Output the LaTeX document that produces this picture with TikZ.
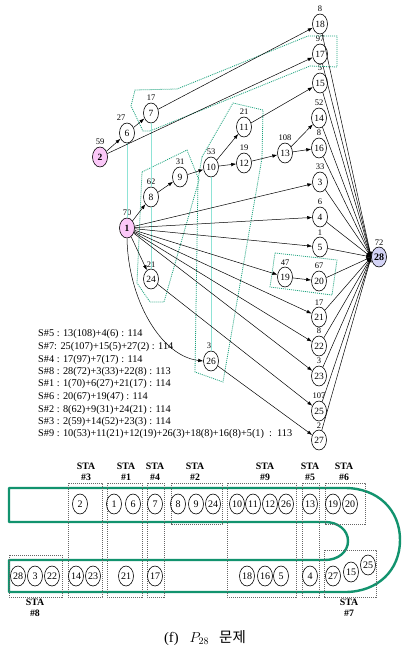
\documentclass[tikz,border=0pt]{standalone}
\usepackage{fontspec}
\setmainfont{Liberation Serif}
\newfontfamily\krfont{Noto Sans CJK KR}
\usetikzlibrary{arrows.meta,shapes.geometric}
\definecolor{grpline}{HTML}{1FA37F}
\definecolor{tieline}{HTML}{8FE3D6}
\definecolor{srcfill}{HTML}{FBC8F8}
\definecolor{sinkfill}{HTML}{D4D4F6}
\definecolor{loopgreen}{HTML}{12936E}
\begin{document}
\begin{tikzpicture}[x=1pt,y=-1pt,
  tn/.style={ellipse,draw,line width=0.6pt,minimum width=15pt,minimum height=20pt,inner sep=0pt,font=\fontsize{9.5}{10}\selectfont},
  src/.style={tn,fill=srcfill,font=\fontsize{9.5}{10}\selectfont\bfseries},
  sink/.style={tn,fill=sinkfill,font=\fontsize{10}{10}\selectfont\bfseries},
  every label/.style={font=\fontsize{8.5}{9}\selectfont,inner sep=0.5pt},
  label distance=1pt,
  prec/.style={line width=0.5pt,-{Latex[length=5pt,width=3.6pt]}},
  grp/.style={grpline,line width=0.8pt,dash pattern=on 1pt off 1pt},
  tie/.style={tieline,line width=0.6pt},
  stxt/.style={anchor=west,inner sep=0pt,font=\fontsize{10.3}{11}\selectfont},
  bn/.style={ellipse,draw,line width=0.6pt,minimum width=15pt,minimum height=20pt,inner sep=0pt,font=\fontsize{10}{10}\selectfont},
  stabox/.style={draw=black!60,line width=0.5pt,dash pattern=on 1.2pt off 0.8pt},
  stalbl/.style={align=center,inner sep=0pt,font=\fontsize{9.8}{11}\selectfont\bfseries},
  loop/.style={loopgreen,line width=2.4pt,line join=round}]
\useasboundingbox (0,0) rectangle (403,655);

% ---------- precedence graph: nodes ----------
\node[src,label={above:59}] (n2) at (100,157) {2};
\node[tn,label={[xshift=-6pt]above:27}] (n6) at (127,133) {6};
\node[tn,label={above:17}] (n7) at (151,113) {7};
\node[tn,label={above:8}] (n18) at (320,24) {18};
\node[tn,label={above:97}] (n17) at (320,54) {17};
\node[tn,label={above:5}] (n15) at (320,83) {15};
\node[tn,label={above:52}] (n14) at (319,118) {14};
\node[tn,label={above:8}] (n16) at (319,148) {16};
\node[tn,label={above:21}] (n11) at (244,127) {11};
\node[tn,label={above:108}] (n13) at (285,153) {13};
\node[tn,label={above:19}] (n12) at (244,163) {12};
\node[tn,label={above:53}] (n10) at (211,167) {10};
\node[tn,label={above:31}] (n9) at (180,177) {9};
\node[tn,label={above:62}] (n8) at (151,197) {8};
\node[src,label={above:70}] (n1) at (127,228) {1};
\node[tn,label={above:33}] (n3) at (320,182) {3};
\node[tn,label={above:6}] (n4) at (320,217) {4};
\node[tn,label={above:1}] (n5) at (320,247) {5};
\node[sink,label={above:72}] (n28) at (379,257) {28};
\node[tn,label={above:47}] (n19) at (285,277) {19};
\node[tn,label={above:67}] (n20) at (319,281) {20};
\node[tn,label={above:21}] (n24) at (151,279) {24};
\node[tn,label={above:17}] (n21) at (319,317) {21};
\node[tn,label={above:8}] (n22) at (319,346) {22};
\node[tn,label={above:3}] (n23) at (319,376) {23};
\node[tn,label={[xshift=-2pt]above:3}] (n26) at (211,361) {26};
\node[tn,label={above:107}] (n25) at (319,411) {25};
\node[tn,label={above:2}] (n27) at (319,440) {27};

% ---------- station groups (dotted outlines) ----------
\draw[grp] (131,106) -- (135,90) -- (177,89) -- (308,36) -- (337,36) -- (337,67)
  -- (310,66) -- (150,131) -- (143,131) -- cycle;
\draw[grp] (142,172) -- (187,150) -- (199,180) -- (164,302) -- (150,302) -- (137,283) -- cycle;
\draw[grp] (202,157) -- (233,103) -- (263,110) -- (262,158) -- (223,382) -- (195,372)
  -- (198,180) -- cycle;
\draw[grp] (275,253) -- (337,260) -- (332,295) -- (270,287) -- cycle;

% ---------- ties between tasks of one station ----------
\draw[tie] (n6) -- (n1);
\draw[tie] (n7) -- (n8);
\draw[tie] (n8) -- (n24);
\draw[tie] (n10) -- (n26);

% ---------- precedence arcs ----------
\draw[prec] (n2) -- (n6);
\draw[prec] (n6) -- (n7);
\draw[prec] (n7) -- (n18);
\draw[prec] (n2) -- (n17);
\draw[prec] (n1) -- (n8);
\draw[prec] (n8) -- (n9);
\draw[prec] (n9) -- (n10);
\draw[prec] (n10) -- (n11);
\draw[prec] (n10) -- (n12);
\draw[prec] (n11) -- (n15);
\draw[prec] (n12) -- (n13);
\draw[prec] (n13) -- (n14);
\draw[prec] (n13) -- (n16);
\draw[prec] (n1) -- (n3);
\draw[prec] (n1) -- (n4);
\draw[prec] (n1) -- (n5);
\draw[prec] (n1) -- (n19);
\draw[prec] (n19) -- (n20);
\draw[prec] (n1) -- (n24);
\draw[prec] (n1) -- (n21);
\draw[prec] (n1) -- (n22);
\draw[prec] (n1) -- (n23);
\draw[prec] (n24) -- (n25);
\draw[prec] (n26) -- (n27);
\draw[prec] (n1.south) .. controls (128,298) and (160,356) .. (n26.west);
\foreach \s in {18,17,15,14,16,3,4,5,20,21,22,23,25,27}
  \draw[prec] (n\s) -- (n28.west);

% ---------- station summaries ----------
\node[stxt] (s5) at (38,334) {S\#5 : 13(108)+4(6) : 114};
\node[stxt] (s7) at (38,347) {S\#7: 25(107)+15(5)+27(2) : 114};
\node[stxt] (s4) at (38,360) {S\#4 : 17(97)+7(17) : 114};
\node[stxt] (s8) at (38,372) {S\#8 : 28(72)+3(33)+22(8) : 113};
\node[stxt] (s1) at (38,384) {S\#1 : 1(70)+6(27)+21(17) : 114};
\node[stxt] (s6) at (38,397) {S\#6 : 20(67)+19(47) : 114};
\node[stxt] (s2) at (38,410) {S\#2 : 8(62)+9(31)+24(21) : 114};
\node[stxt] (s3) at (38,422) {S\#3 : 2(59)+14(52)+23(3) : 114};
\node[stxt] (s9) at (38,434) {S\#9 : 10(53)+11(21)+12(19)+26(3)+18(8)+16(8)+5(1)~~:~~113};

% ---------- U-shaped line layout ----------
\draw[loop] (9,488) -- (345,488) .. controls (378,488) and (400,510) .. (400,540)
  .. controls (400,570) and (378,592) .. (345,592) -- (9,592) -- (9,560) -- (325,560)
  .. controls (338,560) and (348,552) .. (348,541) .. controls (348,530) and (338,522) .. (325,522)
  -- (9,522) -- cycle;

% station boxes
\draw[stabox] (68,483) rectangle (102,597);
\draw[stabox] (107,483) rectangle (142,597);
\draw[stabox] (147,483) rectangle (164,597);
\draw[stabox] (171,483) rectangle (222,524);
\draw[stabox] (227,483) rectangle (296,597);
\draw[stabox] (302,483) rectangle (319,597);
\draw[stabox] (325,483) rectangle (365,524);
\draw[stabox] (9,555) rectangle (62,597);
\draw[stabox] (324,550) rectangle (376,597);

% station labels
\node[stalbl] (l3) at (86,472) {STA\\\#3};
\node[stalbl] (l1) at (126,472) {STA\\\#1};
\node[stalbl] (l4) at (155,472) {STA\\\#4};
\node[stalbl] (l2) at (195,472) {STA\\\#2};
\node[stalbl] (l9) at (265,472) {STA\\\#9};
\node[stalbl] (l5) at (310,472) {STA\\\#5};
\node[stalbl] (l6) at (344,472) {STA\\\#6};
\node[stalbl] (l8) at (35,608) {STA\\\#8};
\node[stalbl] (l7) at (349,608) {STA\\\#7};

% tasks on the upper side of the line
\node[bn] (b2) at (80,504) {2};
\node[bn] (b1) at (114,504) {1};
\node[bn] (b6) at (133,504) {6};
\node[bn] (b7) at (155,504) {7};
\node[bn] (b8) at (178,504) {8};
\node[bn] (b9) at (196,504) {9};
\node[bn] (b24) at (213,504) {24};
\node[bn] (b10) at (237,504) {10};
\node[bn] (b11) at (253,504) {11};
\node[bn] (b12) at (270,504) {12};
\node[bn] (b26) at (286,504) {26};
\node[bn] (b13) at (310,504) {13};
\node[bn] (b19) at (333,504) {19};
\node[bn] (b20) at (350,504) {20};

% tasks on the lower side of the line
\node[bn] (b28) at (18,576) {28};
\node[bn] (b3) at (35,576) {3};
\node[bn] (b22) at (52,576) {22};
\node[bn] (b14) at (76,576) {14};
\node[bn] (b23) at (93,576) {23};
\node[bn] (b21) at (126,576) {21};
\node[bn] (b17) at (155,576) {17};
\node[bn] (b18) at (247,576) {18};
\node[bn] (b16) at (265,576) {16};
\node[bn] (b5) at (281,576) {5};
\node[bn] (b4) at (310,576) {4};
\node[bn] (b27) at (333,576) {27};
\node[bn] (b15) at (351,572) {15};
\node[bn] (b25) at (368,565) {25};

% caption
\node[inner sep=0pt,font=\fontsize{14.5}{16}\selectfont] (cap) at (205,638)
  {(f)\hspace{11pt}$P_{28}$\hspace{10pt}{\krfont 문제}};
\end{tikzpicture}
\end{document}
